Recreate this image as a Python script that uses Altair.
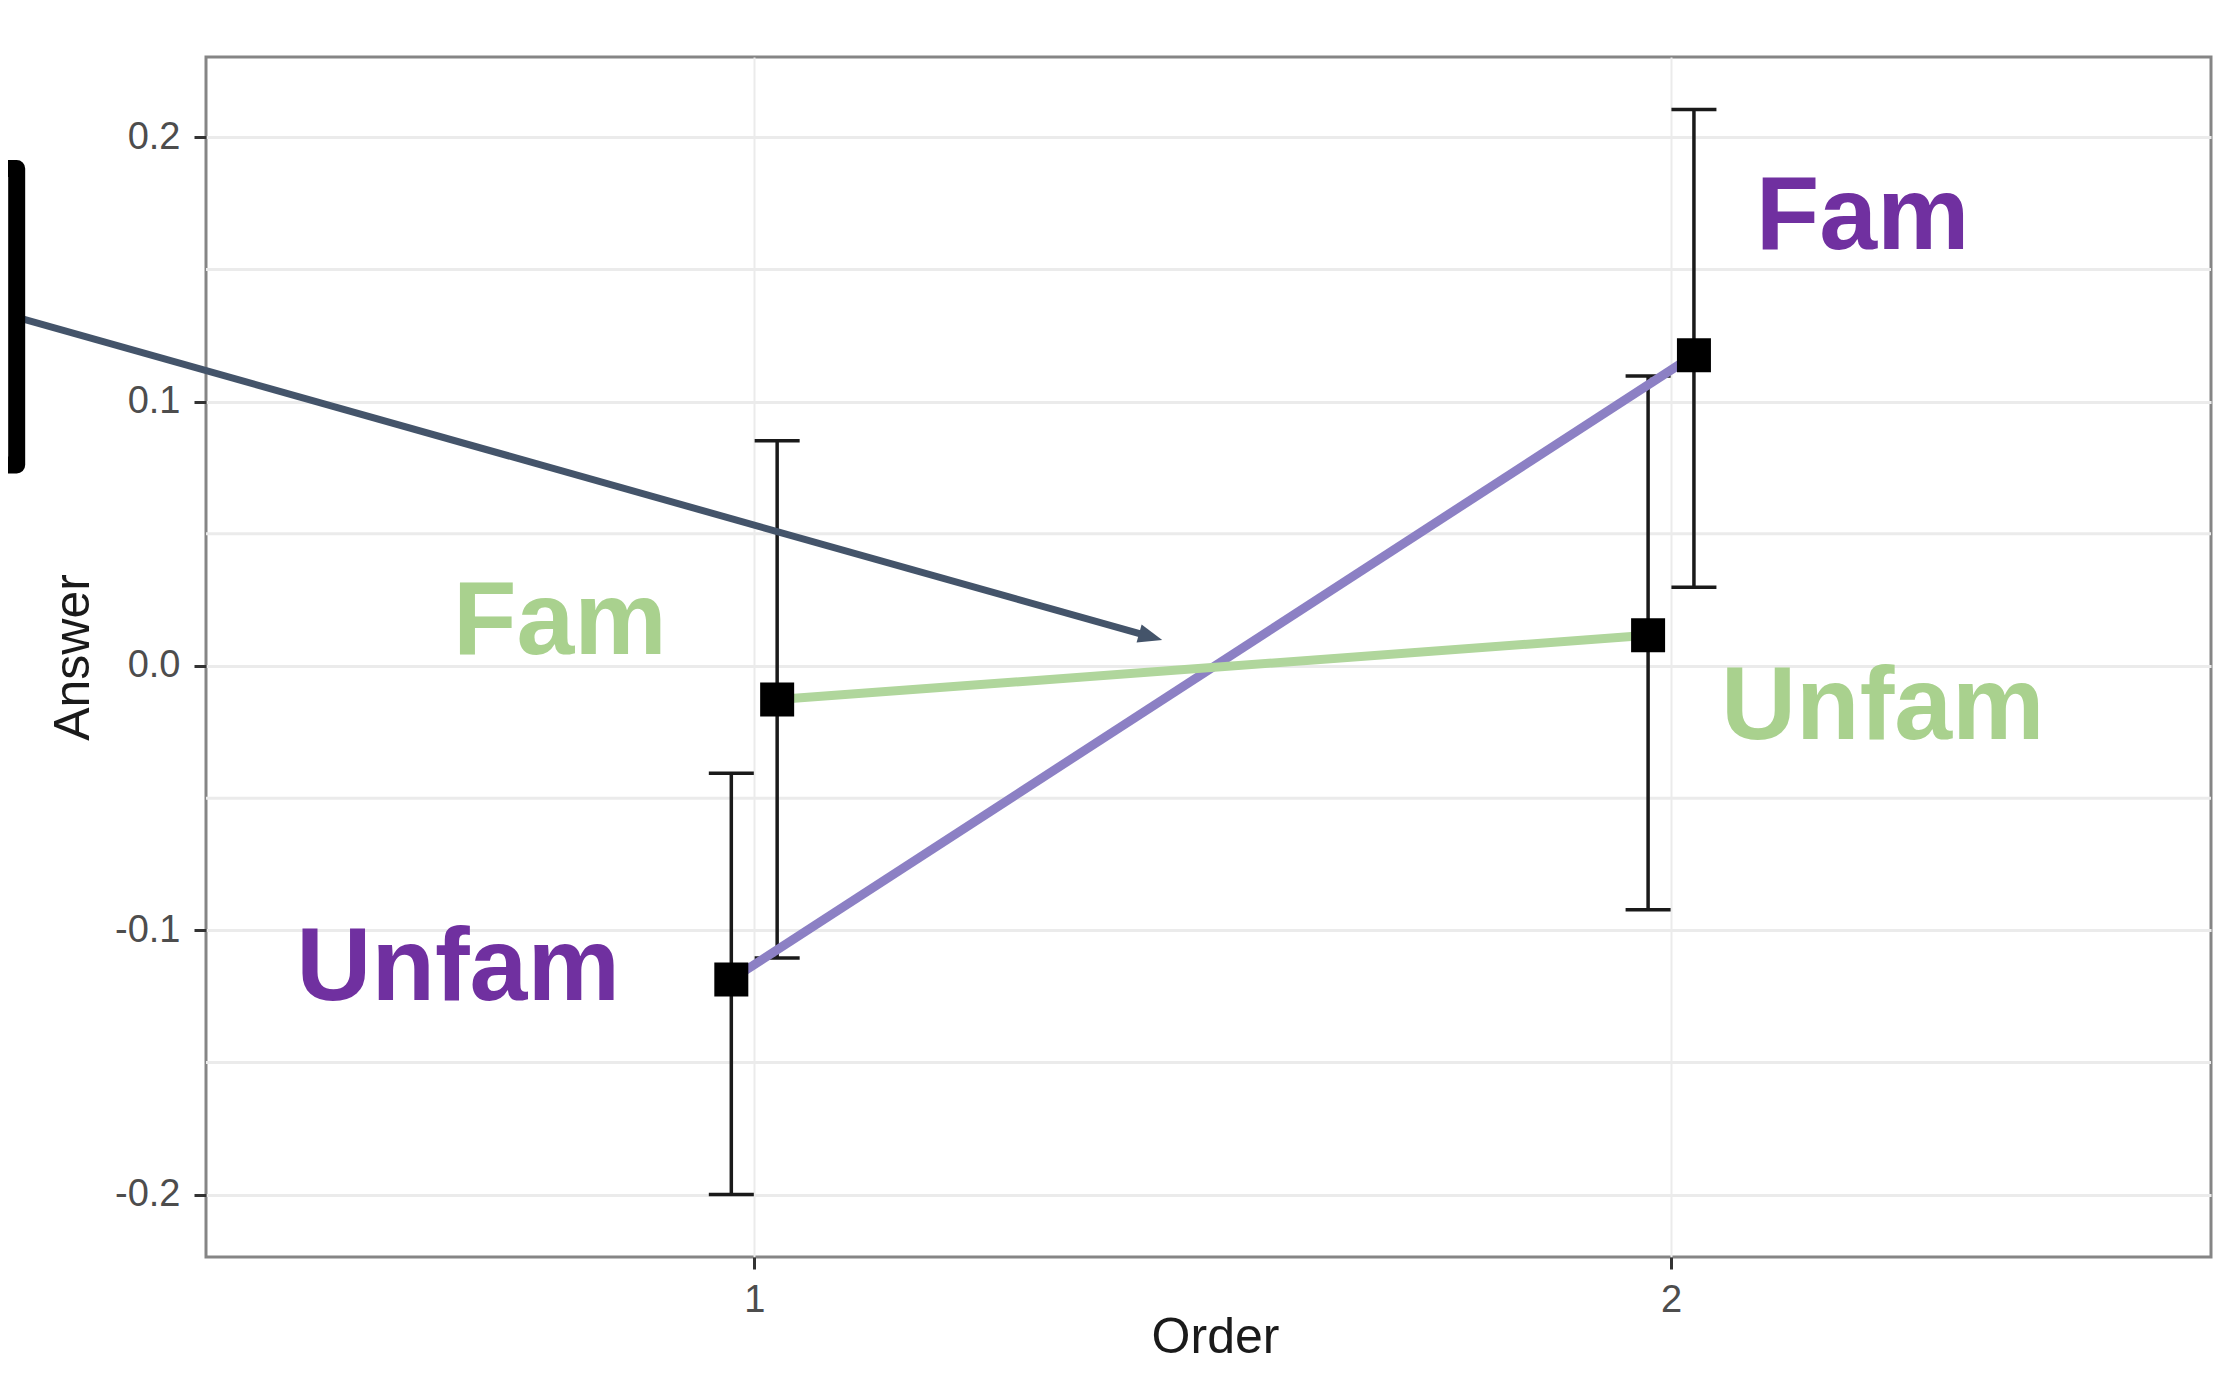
import math
import altair as alt
import pandas as pd

# ---------------- data ----------------
series = ["A", "B", "B", "A"]            # A = purple line, B = green line
order = [1, 1, 2, 2]
dodge = [-0.025, 0.025, -0.025, 0.025]
means = [-0.1186, -0.0127, 0.0116, 0.1176]
lower = [-0.2000, -0.1105, -0.0922, 0.0298]
upper = [-0.0406, 0.0852, 0.1097, 0.2105]

label_text = ["Fam", "Unfam", "Fam", "Unfam"]
label_series = ["B", "A", "A", "B"]
label_x = [0.788, 0.677, 2.209, 2.231]
label_y = [0.0045, -0.1263, 0.1578, -0.0276]

arrow_start = [0.195, 0.132]
arrow_tip = [1.445, 0.0098]

bracket_x = [0.1773, 0.1955, 0.1955, 0.1773]
bracket_y = [0.1882, 0.1882, 0.0760, 0.0760]

y_ticks = [-0.2, -0.1, 0.0, 0.1, 0.2]
y_minor = [-0.15, -0.05, 0.05, 0.15]
x_ticks = [1, 2]

# ---------------- geometry ----------------
W, H = 2005, 1200
XD = [0.402, 2.589]
YD = [-0.2236, 0.2304]
FONT = "Liberation Sans, Arial, sans-serif"
PURPLE_LINE = "#8c80c4"
GREEN_LINE = "#b0d69c"
PURPLE_TEXT = "#7030A0"
GREEN_TEXT = "#A9D18E"
ARROW = "#44546A"

df = pd.DataFrame({
    "series": series,
    "order": order,
    "x": [o + d for o, d in zip(order, dodge)],
    "mean": means,
    "lo": lower,
    "hi": upper,
})

labels = pd.DataFrame({"text": label_text, "series": label_series,
                       "x": label_x, "y": label_y})

# arrow: shorten the shaft so it ends inside the head
pxx = W / (XD[1] - XD[0])
pxy = H / (YD[1] - YD[0])
dxp = (arrow_tip[0] - arrow_start[0]) * pxx
dyp = (arrow_start[1] - arrow_tip[1]) * pxy
L = math.hypot(dxp, dyp)
ux, uy = dxp / L, dyp / L
back = 18
shaft_end = [arrow_tip[0] - back * ux / pxx, arrow_tip[1] + back * uy / pxy]
angle = math.degrees(math.atan2(dyp, dxp))

arrow_line = pd.DataFrame({"x": [arrow_start[0], shaft_end[0]],
                           "y": [arrow_start[1], shaft_end[1]]})
arrow_head = pd.DataFrame({"x": [arrow_tip[0]], "y": [arrow_tip[1]]})
bracket = pd.DataFrame({"x": bracket_x, "y": bracket_y, "i": [0, 1, 2, 3]})
minor = pd.DataFrame({"y": y_minor})

xs = alt.Scale(domain=XD, nice=False, zero=False)
ys = alt.Scale(domain=YD, nice=False, zero=False)

x_axis = alt.Axis(
    values=x_ticks, grid=True, gridColor="#ebebeb", gridWidth=2,
    tickSize=12, tickColor="#333333", tickWidth=3,
    labelFontSize=38, labelColor="#4d4d4d", labelFont=FONT, labelPadding=12,
    domain=False, title="Order", titleFont=FONT, titleFontSize=50,
    titleFontWeight="normal", titleColor="#1a1a1a",
    titleX=1009, titleY=95, titleBaseline="alphabetic",
)
y_axis = alt.Axis(
    values=y_ticks, grid=True, gridColor="#ebebeb", gridWidth=3,
    tickSize=12, tickColor="#333333", tickWidth=3,
    labelFontSize=38, labelColor="#4d4d4d", labelFont=FONT, labelPadding=14,
    labelExpr="(datum.value < -0.00001 ? '-' : '') + format(abs(datum.value), '.1f')",
    domain=False, title="Answer", titleFont=FONT, titleFontSize=50,
    titleFontWeight="normal", titleColor="#1a1a1a",
    titleAngle=270, titleX=-118, titleY=600, titleBaseline="alphabetic",
)


def X(field):
    return alt.X(field, type="quantitative", scale=xs, axis=x_axis, title="Order")


def Y(field):
    return alt.Y(field, type="quantitative", scale=ys, axis=y_axis, title="Answer")


minor_grid = alt.Chart(minor).mark_rule(color="#ebebeb", strokeWidth=3).encode(y=Y("y"))

err = alt.Chart(df).mark_rule(color="#1a1a1a", strokeWidth=3.5).encode(
    x=X("x"), y=Y("lo"), y2="hi")

caps = alt.Chart(df).transform_fold(["lo", "hi"], as_=["k", "v"]).mark_tick(
    orient="horizontal", size=45, thickness=3.5, color="#1a1a1a", opacity=1
).encode(x=X("x"), y=Y("v"))

lines = alt.Chart(df).mark_line(strokeWidth=9).encode(
    x=X("x"), y=Y("mean"),
    stroke=alt.Stroke("series:N", scale=alt.Scale(domain=["A", "B"],
                                                  range=[PURPLE_LINE, GREEN_LINE]),
                      legend=None),
    detail="series:N",
)

pts = alt.Chart(df).mark_square(size=1156, color="black", opacity=1, strokeWidth=0).encode(
    x=X("x"), y=Y("mean"))

texts = alt.Chart(labels).mark_text(
    font=FONT, fontWeight="bold", fontSize=104, align="center", baseline="alphabetic"
).encode(
    x=X("x"), y=Y("y"), text="text:N",
    color=alt.Color("series:N", scale=alt.Scale(domain=["A", "B"],
                                                range=[PURPLE_TEXT, GREEN_TEXT]),
                    legend=None),
)

arrow_shaft = alt.Chart(arrow_line).mark_line(color=ARROW, strokeWidth=7, strokeCap="butt").encode(
    x=X("x"), y=Y("y"))

arrow_point = alt.Chart(arrow_head).mark_point(
    shape="M0,0L-2,-0.78L-2,0.78Z", filled=True, size=576, angle=angle,
    color=ARROW, opacity=1, strokeWidth=0
).encode(x=X("x"), y=Y("y"))

bracket_line = alt.Chart(bracket).mark_line(
    color="black", strokeWidth=17, strokeJoin="round", strokeCap="butt"
).encode(x=X("x"), y=Y("y"), order=alt.Order("i:Q"))

chart = alt.layer(
    minor_grid, err, caps, lines, pts, texts, arrow_shaft, arrow_point, bracket_line
).properties(
    width=W, height=H,
    autosize=alt.AutoSizeParams(type="none"),
    padding={"left": 198, "top": 49, "right": 2, "bottom": 106},
    background="white",
).configure_view(stroke="#858585", strokeWidth=3)

chart.save("out.html", embed_options={"renderer": "svg", "actions": False})
